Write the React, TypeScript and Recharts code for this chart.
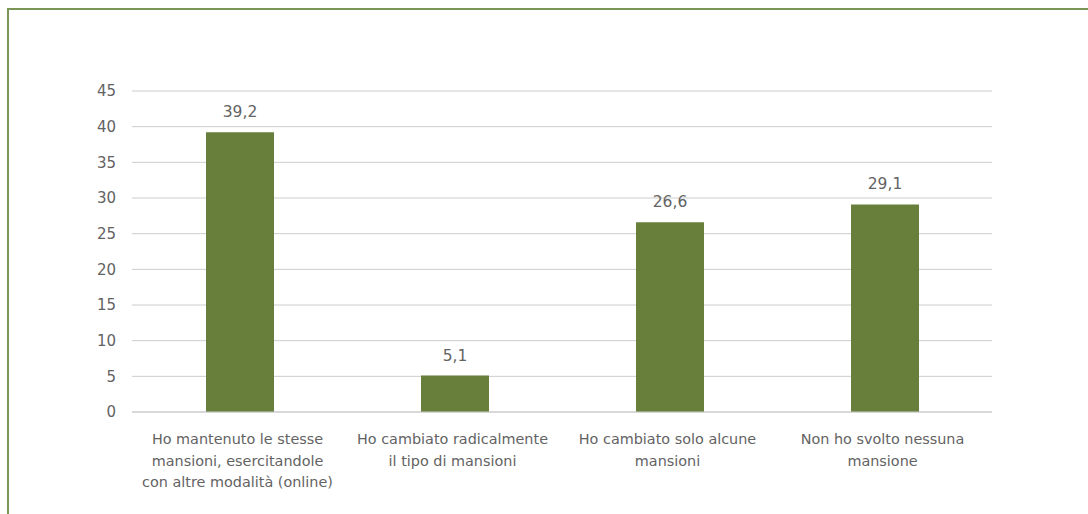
import { Bar, BarChart, CartesianGrid, LabelList, XAxis, YAxis } from "recharts"

// categorie (con a capo come nel grafico originale)
const categories = [
  "Ho mantenuto le stesse\nmansioni, esercitandole\ncon altre modalità (online)",
  "Ho cambiato radicalmente\nil tipo di mansioni",
  "Ho cambiato solo alcune\nmansioni",
  "Non ho svolto nessuna\nmansione",
]

const values = [39.2, 5.1, 26.6, 29.1]

const yTicks = [0, 5, 10, 15, 20, 25, 30, 35, 40, 45]

const data = categories.map((name, i) => ({ name, value: values[i] }))

const FONT = "'DejaVu Sans', sans-serif"
const TEXT = "#636363"

function CategoryTick(props: any) {
  const { x, y, payload } = props
  const lines = String(payload.value).split("\n")
  return (
    <text x={x - 2} y={y} textAnchor="middle" fill={TEXT} fontSize={14.4} fontFamily={FONT}>
      {lines.map((line, i) => (
        <tspan key={i} x={x - 2} dy={i === 0 ? 24 : 21.5}>
          {line}
        </tspan>
      ))}
    </text>
  )
}

export default function App() {
  return (
    <div style={{ position: "absolute", left: 0, top: 0, width: 1088, height: 514, overflow: "hidden", background: "#fff" }}>
      <div
        style={{
          position: "absolute",
          left: 7,
          top: 8,
          width: 1200,
          height: 600,
          borderTop: "2px solid #7b9656",
          borderLeft: "2px solid #7b9656",
        }}
      />
      <BarChart
        width={1088}
        height={514}
        data={data}
        margin={{ top: 91, right: 96, bottom: 0, left: 0 }}
        barSize={68}
        style={{ position: "absolute", left: 0, top: 0 }}
      >
        <CartesianGrid vertical={false} stroke="#cccccc" />
        <XAxis
          dataKey="name"
          height={102}
          interval={0}
          tickLine={false}
          axisLine={{ stroke: "#cccccc" }}
          tick={<CategoryTick />}
        />
        <YAxis
          width={132}
          domain={[0, 45]}
          ticks={yTicks}
          interval={0}
          tickLine={false}
          axisLine={false}
          tickMargin={10}
          tick={{ fill: TEXT, fontSize: 15, fontFamily: FONT }}
        />
        <Bar dataKey="value" fill="#687f3b" isAnimationActive={false}>
          <LabelList
            dataKey="value"
            position="top"
            offset={15}
            fill={TEXT}
            fontSize={15.5}
            fontFamily={FONT}
            formatter={(v: any) => String(v).replace(".", ",")}
          />
        </Bar>
      </BarChart>
    </div>
  )
}
